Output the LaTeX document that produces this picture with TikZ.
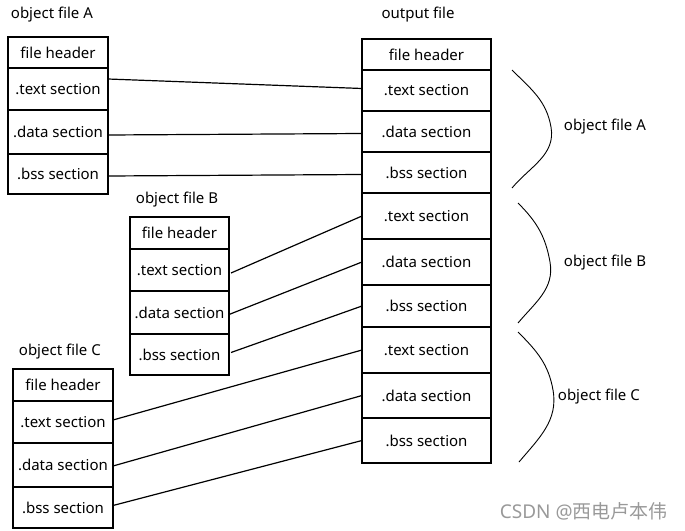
\documentclass[tikz,border=0pt]{standalone}
\usepackage{fontspec}
\setmainfont{Noto Sans}
\newfontfamily\cjk{Noto Sans CJK SC}
\usetikzlibrary{positioning}

\begin{document}
\begin{tikzpicture}[x=1pt, y=-1pt, line width=1.2pt,
    every node/.style={font=\fontsize{15}{17}\selectfont},
    sec/.style={draw, rectangle, inner sep=0pt, outer sep=0pt, minimum width=100pt},
    outsec/.style={sec, minimum width=129pt},
    brace/.style={line width=0.9pt}]
    \useasboundingbox (0,0) rectangle (685,530);

    \node[anchor=west] (titleA) at (7,15) {object file A};
    \node[sec, minimum height=31pt] (aHead) at (58,52.5) {file header};
    \node[sec, minimum height=42pt, below=0pt of aHead] (aText) {.text section};
    \node[sec, minimum height=44pt, below=0pt of aText] (aData) {.data section};
    \node[sec, minimum height=40pt, below=0pt of aData] (aBss) {.bss section};

    \node[anchor=west] (titleB) at (132,200) {object file B};
    \node[sec, minimum width=99pt, minimum height=32pt] (bHead) at (179.5,233) {file header};
    \node[sec, minimum width=99pt, minimum height=42pt, below=0pt of bHead] (bText) {.text section};
    \node[sec, minimum width=99pt, minimum height=43pt, below=0pt of bText] (bData) {.data section};
    \node[sec, minimum width=99pt, minimum height=41pt, below=0pt of bData] (bBss) {.bss section};

    \node[anchor=west] (titleC) at (15,352) {object file C};
    \node[sec, minimum height=32pt] (cHead) at (63,385) {file header};
    \node[sec, minimum height=42pt, below=0pt of cHead] (cText) {.text section};
    \node[sec, minimum height=44pt, below=0pt of cText] (cData) {.data section};
    \node[sec, minimum height=41pt, below=0pt of cData] (cBss) {.bss section};

    \node (titleOut) at (418,15) {output file};
    \node[outsec, minimum height=31pt] (oHead) at (426.5,54.5) {file header};
    \node[outsec, minimum height=41pt, below=0pt of oHead] (oTextA) {.text section};
    \node[outsec, minimum height=41pt, below=0pt of oTextA] (oDataA) {.data section};
    \node[outsec, minimum height=41pt, below=0pt of oDataA] (oBssA) {.bss section};
    \node[outsec, minimum height=46pt, below=0pt of oBssA] (oTextB) {.text section};
    \node[outsec, minimum height=46pt, below=0pt of oTextB] (oDataB) {.data section};
    \node[outsec, minimum height=42pt, below=0pt of oDataB] (oBssB) {.bss section};
    \node[outsec, minimum height=46pt, below=0pt of oBssB] (oTextC) {.text section};
    \node[outsec, minimum height=45pt, below=0pt of oTextC] (oDataC) {.data section};
    \node[outsec, minimum height=45pt, below=0pt of oDataC] (oBssC) {.bss section};

    \draw ([yshift=10pt]aText.east) -- ([yshift=2pt]oTextA.west);
    \draw ([yshift=-3pt]aData.east) -- ([yshift=-2pt]oDataA.west);
    \draw ([yshift=-2pt]aBss.east) -- ([yshift=-2pt]oBssA.west);
    \draw ([xshift=2pt,yshift=-3pt]bText.east) -- (oTextB.west);
    \draw ([yshift=-2pt]bData.east) -- (oDataB.west);
    \draw ([xshift=2pt,yshift=2pt]bBss.east) -- (oBssB.west);
    \draw ([yshift=2pt]cText.east) -- (oTextC.west);
    \draw ([yshift=-1pt]cData.east) -- (oDataC.west);
    \draw ([yshift=2pt]cBss.east) -- (oBssC.west);

    \coordinate (bA1) at (512,70);
    \coordinate (bA2) at (551,127);
    \coordinate (bA3) at (512,188);
    \draw[brace] (bA1) to[out=-45,in=100] (bA2) to[out=-80,in=50] (bA3);
    \node[anchor=west] (lblA) at (560,127) {object file A};

    \coordinate (bB1) at (518,203);
    \coordinate (bB2) at (550,262);
    \coordinate (bB3) at (518,323);
    \draw[brace] (bB1) to[out=-45,in=100] (bB2) to[out=-80,in=50] (bB3);
    \node[anchor=west] (lblB) at (560,263) {object file B};

    \coordinate (bC1) at (518,332);
    \coordinate (bC2) at (553,390);
    \coordinate (bC3) at (519,462);
    \draw[brace] (bC1) to[out=-45,in=100] (bC2) to[out=-80,in=50] (bC3);
    \node[anchor=west] (lblC) at (554,397) {object file C};

    \node[anchor=west, text=black!40, font=\fontsize{19}{21}\selectfont] (mark) at (496,511) {CSDN @{\cjk 西电卢本伟}};
\end{tikzpicture}
\end{document}
